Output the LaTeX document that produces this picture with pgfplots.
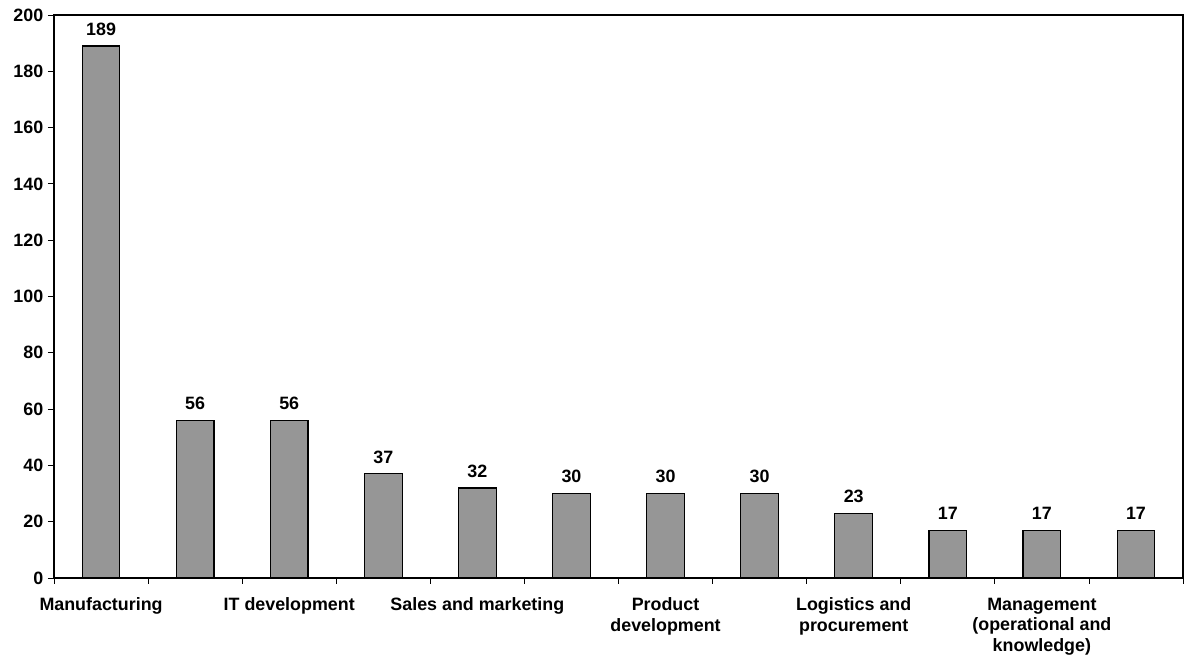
\documentclass[border=0pt]{standalone}
\usepackage{pgfplots}
\pgfplotsset{compat=1.18}
\usepackage{fontspec}
\setmainfont{Liberation Sans}
\definecolor{bargray}{HTML}{969696}
\begin{document}
\begin{tikzpicture}
\path[use as bounding box] (-40.5pt,-63.75pt) rectangle (849pt,433.5pt);
\begin{axis}[
  at={(0pt,0pt)}, anchor=south west,
  scale only axis, width=846.75pt, height=422.25pt,
  xmin=-0.5, xmax=11.5, ymin=0, ymax=200,
  ytick={0,20,...,200},
  xtick={-0.5,0.5,...,11.5},
  x tick label as interval,
  xtick pos=bottom, ytick pos=left,
  xticklabels={Manufacturing,,IT development,,Sales and marketing,,Product\\development,,Logistics and\\procurement,,Management\\(operational and\\knowledge),},
  /pgf/number format/assume math mode=true,
  tick align=outside,
  major tick length=4.5pt,
  tick style={black, line width=0.6pt},
  axis line style={line width=0.8pt, black},
  x tick label style={align=center, font=\fontsize{13.4}{15.4}\selectfont\bfseries, anchor=north, yshift=-7pt},
  y tick label style={font=\fontsize{13.4}{15.4}\selectfont\bfseries},
  nodes near coords,
  every node near coord/.append style={font=\fontsize{13.4}{15.4}\selectfont\bfseries, yshift=4pt},
]
\addplot[ybar, bar width=0.4, fill=bargray, draw=black, line width=0.9pt]
  coordinates {(0,189) (1,56) (2,56) (3,37) (4,32) (5,30) (6,30) (7,30) (8,23) (9,17) (10,17) (11,17)};
\end{axis}
\end{tikzpicture}
\end{document}
